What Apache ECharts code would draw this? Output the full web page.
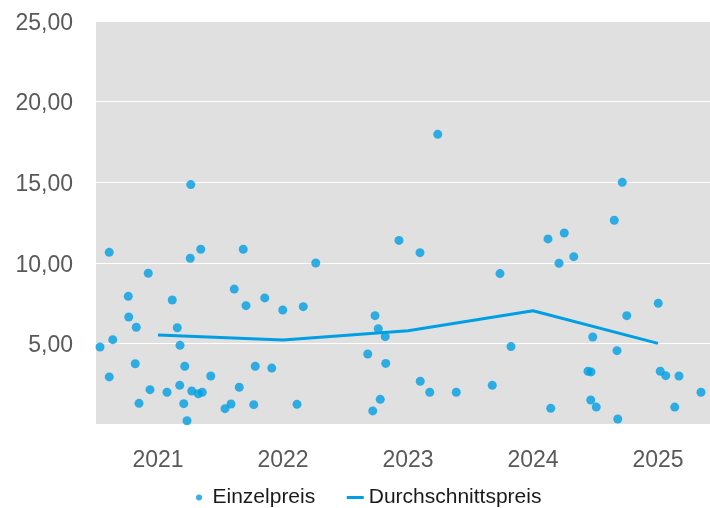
<!DOCTYPE html>
<html>
<head>
<meta charset="utf-8">
<script src="https://cdn.jsdelivr.net/npm/echarts@6/dist/echarts.min.js"></script>
<style>
  html, body { margin: 0; padding: 0; background: #ffffff; }
  #chart { width: 710px; height: 508px; }
</style>
</head>
<body>
<div id="chart"></div>
<script>
// Individual prices: time as decimal year, price in EUR
const singleDates = [
  2020.536, 2020.610, 2020.638, 2020.610, 2020.762, 2020.766, 2020.826, 2020.922,
  2020.818, 2020.936, 2020.848, 2021.072, 2021.114, 2021.154, 2021.176, 2021.214,
  2021.174, 2021.206, 2021.232, 2021.258, 2021.262, 2021.342, 2021.270, 2021.322,
  2021.354, 2021.422, 2021.536, 2021.584, 2021.610, 2021.650, 2021.682, 2021.704,
  2021.766, 2021.778, 2021.854, 2021.910, 2021.998, 2022.112, 2022.162, 2022.262,
  2022.678, 2022.718, 2022.736, 2022.762, 2022.778, 2022.818, 2022.822, 2022.928,
  2023.096, 2023.098, 2023.174, 2023.238, 2023.386, 2023.674, 2023.736, 2023.824,
  2024.120, 2024.142, 2024.208, 2024.250, 2024.326, 2024.440, 2024.464, 2024.462,
  2024.478, 2024.506, 2024.650, 2024.672, 2024.678, 2024.714, 2024.750, 2025.002,
  2025.018, 2025.062, 2025.134, 2025.168, 2025.344
];
const singlePrices = [
  4.78, 10.65, 5.23, 2.92, 7.92, 6.64, 6.00, 9.35,
  3.74, 2.13, 1.28, 1.97, 7.69, 5.97, 4.88, 3.58,
  2.40, 1.26, 0.20, 10.28, 14.85, 10.84, 2.05, 1.88,
  1.97, 2.98, 0.95, 1.24, 8.37, 2.28, 10.84, 7.34,
  1.20, 3.58, 7.82, 3.47, 7.07, 1.22, 7.28, 9.99,
  4.34, 0.81, 6.72, 5.91, 1.53, 5.42, 3.76, 11.39,
  10.63, 2.65, 1.97, 17.97, 1.97, 2.40, 9.33, 4.80,
  11.48, 0.97, 9.97, 11.85, 10.38, 3.27, 3.23, 1.49,
  5.40, 1.05, 12.64, 4.55, 0.31, 14.99, 6.72, 7.49,
  3.27, 3.00, 1.05, 2.98, 1.97
];

// Yearly average price
const avgYears = [2021, 2022, 2023, 2024, 2025];
const avgPrices = [5.52, 5.21, 5.79, 7.03, 5.00];

// Axis ticks
const yearTicks = [2021, 2022, 2023, 2024, 2025];
const priceTicks = [0, 5, 10, 15, 20, 25];

const blue = '#009fe3';
const fontFamily = '"Liberation Sans", Arial, sans-serif';

const chart = echarts.init(document.getElementById('chart'), null, { renderer: 'canvas' });

chart.setOption({
  animation: false,
  backgroundColor: '#ffffff',
  textStyle: { fontFamily: fontFamily },
  grid: {
    left: 96,
    right: 0,
    top: 21,
    bottom: 84,
    show: true,
    backgroundColor: '#e0e0e0',
    borderWidth: 0
  },
  legend: {
    left: 191,
    top: 482,
    itemWidth: 17,
    itemHeight: 6,
    itemGap: 30,
    textStyle: { fontSize: 21, color: '#1a1a1a', fontFamily: fontFamily },
    data: [
      { name: 'Einzelpreis', icon: 'circle' },
      {
        name: 'Durchschnittspreis',
        itemStyle: { opacity: 0 },
        lineStyle: { width: 3, color: blue }
      }
    ]
  },
  xAxis: {
    type: 'value',
    min: 2020.504,
    max: 2025.416,
    axisLine: { show: false },
    axisTick: { show: false },
    splitLine: { show: false },
    axisLabel: {
      customValues: yearTicks,
      margin: 25,
      fontSize: 23,
      color: '#595959',
      formatter: function (v) { return String(Math.round(v)); }
    }
  },
  yAxis: {
    type: 'value',
    min: priceTicks[0],
    max: priceTicks[priceTicks.length - 1],
    interval: 5,
    axisLine: { show: false },
    axisTick: { show: false },
    splitLine: { show: true, lineStyle: { color: '#ffffff', width: 1 } },
    axisLabel: {
      margin: 23,
      fontSize: 23,
      color: '#595959',
      formatter: function (v) {
        return v === 0 ? '' : '{v|' + v.toFixed(2).replace('.', ',') + '}';
      },
      rich: {
        v: { fontSize: 23, color: '#595959', fontFamily: fontFamily, padding: [5, 0, 0, 0] }
      }
    }
  },
  series: [
    {
      name: 'Einzelpreis',
      type: 'scatter',
      symbol: 'circle',
      symbolSize: 9,
      itemStyle: { color: blue },
      data: singleDates.map((d, i) => [d, singlePrices[i]]),
      z: 3
    },
    {
      name: 'Durchschnittspreis',
      type: 'line',
      symbol: 'none',
      lineStyle: { color: blue, width: 3 },
      itemStyle: { color: blue },
      data: avgYears.map((y, i) => [y, avgPrices[i]]),
      z: 2
    }
  ]
});
</script>
</body>
</html>
